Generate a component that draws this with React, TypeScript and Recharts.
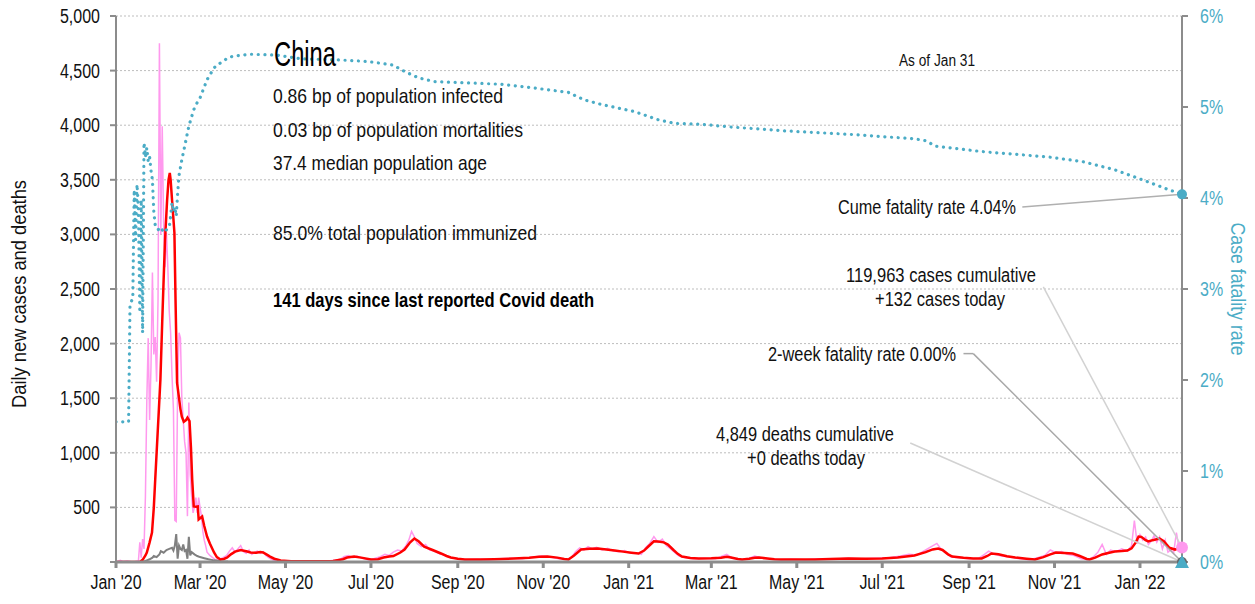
import React from 'react';
import {
  ComposedChart,
  Line,
  XAxis,
  YAxis,
  CartesianGrid,
  ReferenceDot,
  ReferenceLine,
} from 'recharts';

// x values are days since Jan 1 2020
const xTickDays = [0, 60, 121, 182, 244, 305, 366, 425, 486, 547, 609, 670, 731];
const xTickLabels = ["Jan '20", "Mar '20", "May '20", "Jul '20", "Sep '20", "Nov '20", "Jan '21", "Mar '21", "May '21", "Jul '21", "Sep '21", "Nov '21", "Jan '22"];
const leftTicks = [0, 500, 1000, 1500, 2000, 2500, 3000, 3500, 4000, 4500, 5000];
const rightTicks = [0, 1, 2, 3, 4, 5, 6];

// daily new cases [day, cases]
const dailyCases: [number, number][] = [
  [0, 0], [3, 15], [5, 5], [8, 10], [12, 0], [16, 10], [17, 180], [18, 40], [19, 210], [20, 120],
  [21, 600], [22, 1480], [23, 2050], [24, 1300], [25, 1800], [26, 2650], [27, 1900], [28, 2060], [29, 1650], [30, 2400],
  [31, 4750], [32, 3000], [33, 3990], [34, 3100], [35, 2700], [36, 3015], [37, 2700], [38, 2300], [39, 2100], [40, 1700],
  [41, 1400], [42, 380], [43, 370], [44, 1600], [45, 2100], [46, 2050], [47, 1500], [48, 1300], [49, 1100], [50, 1000],
  [51, 420], [52, 1460], [53, 800], [54, 600], [55, 450], [56, 500], [57, 590], [58, 450], [59, 590], [60, 500],
  [61, 420], [62, 280], [63, 200], [64, 150], [65, 90], [67, 60], [69, 40], [71, 20], [73, 25], [75, 30],
  [77, 45], [79, 60], [81, 100], [83, 130], [85, 90], [87, 120], [89, 150], [91, 95], [93, 80], [95, 110],
  [97, 70], [99, 90], [101, 100], [103, 80], [105, 95], [107, 60], [109, 40], [111, 25], [114, 10], [118, 5],
  [125, 10], [132, 4], [140, 8], [148, 5], [156, 15], [160, 25], [163, 50], [166, 60], [169, 40], [172, 55],
  [176, 35], [180, 20], [184, 30], [188, 45], [192, 70], [195, 60], [198, 90], [201, 110], [204, 100], [207, 150],
  [209, 200], [211, 280], [213, 230], [215, 170], [218, 140], [221, 160], [224, 110], [227, 100], [231, 75], [235, 60],
  [239, 40], [244, 30], [250, 20], [258, 25], [266, 20], [274, 30], [282, 35], [290, 30], [298, 45], [304, 55],
  [310, 45], [316, 30], [322, 25], [325, 40], [328, 95], [331, 130], [334, 110], [337, 140], [340, 120], [343, 135],
  [347, 110], [351, 125], [355, 100], [359, 95], [363, 105], [367, 80], [371, 85], [375, 70], [378, 130], [381, 170],
  [384, 233], [387, 180], [390, 210], [393, 150], [396, 120], [399, 85], [402, 55], [406, 40], [412, 30], [420, 35],
  [428, 30], [433, 55], [436, 70], [440, 35], [446, 20], [452, 35], [456, 55], [460, 40], [466, 30], [474, 20],
  [482, 25], [492, 20], [502, 30], [512, 25], [522, 35], [532, 30], [542, 35], [552, 40], [560, 55], [566, 70],
  [572, 65], [578, 110], [582, 140], [586, 170], [589, 120], [592, 90], [596, 45], [602, 40], [610, 30], [616, 35],
  [620, 70], [623, 100], [627, 70], [632, 55], [638, 45], [645, 30], [652, 20], [658, 40], [663, 60], [667, 110],
  [671, 85], [675, 95], [679, 70], [684, 60], [689, 30], [694, 20], [698, 50], [701, 90], [704, 160], [707, 70],
  [710, 110], [714, 95], [718, 120], [722, 100], [725, 150], [727, 380], [729, 170], [731, 250], [733, 200], [735, 230],
  [737, 160], [739, 190], [741, 240], [743, 180], [745, 230], [747, 120], [749, 200], [751, 90], [753, 110], [755, 80],
  [757, 270], [759, 120], [761, 132],
];

// 7-day average of new cases [day, cases]
const avgCases: [number, number][] = [
  [0, 0], [10, 0], [17, 0], [19, 20], [21, 60], [22, 87], [24, 180], [25.7, 270], [27, 500], [28, 755],
  [29, 1000], [30.5, 1370], [31.7, 1670], [33, 2200], [34, 2585], [35, 2950], [36.5, 3317], [37.5, 3500], [38.4, 3563], [39, 3500],
  [40, 3317], [41.7, 3015], [42.5, 2400], [43.6, 1640], [45, 1500], [46, 1400], [47, 1330], [48.4, 1285], [50, 1300], [51, 1322],
  [52.5, 1290], [53.5, 1050], [54.4, 755], [55.5, 508], [57, 505], [58.4, 508], [59, 389], [60, 400], [61.5, 416], [63, 330],
  [65, 233], [67, 170], [70, 87], [72, 45], [74.6, 23], [77, 28], [79.4, 41], [82, 70], [85, 95], [89, 110],
  [93.7, 96], [96, 87], [100, 85], [103, 92], [105, 87], [108, 65], [110, 50], [113, 30], [117.5, 14], [125, 8],
  [140, 6], [155, 10], [162, 25], [165, 41], [170, 50], [175, 40], [182, 23], [187, 25], [191, 41], [195, 50],
  [198, 55], [203, 87], [206, 114], [210, 180], [213, 215], [216, 190], [220, 140], [226, 110], [232, 78], [236, 55],
  [239, 41], [244, 30], [249, 23], [260, 22], [270, 25], [284, 32], [295, 40], [302, 48], [308, 50], [315, 40],
  [320, 28], [323, 23], [327, 60], [332, 114], [338, 122], [344, 123], [350, 115], [356, 105], [362, 95], [368, 85],
  [373, 78], [377, 105], [380, 142], [384, 190], [387, 188], [391, 180], [394, 160], [398, 110], [401, 75], [404, 50],
  [410, 36], [416, 32], [425, 35], [432, 40], [436, 48], [439, 41], [444, 28], [447, 23], [452, 30], [456, 38],
  [459, 41], [465, 32], [470, 25], [475, 23], [485, 22], [499, 23], [510, 28], [523, 32], [535, 30], [547, 32],
  [558, 42], [570, 60], [578, 90], [583, 115], [587, 123], [590, 110], [594, 70], [597, 50], [605, 38], [612, 33],
  [618, 32], [622, 55], [625, 78], [630, 70], [636, 52], [642, 41], [650, 30], [656, 23], [662, 45], [667, 70],
  [671, 87], [677, 82], [683, 78], [688, 55], [693, 28], [695, 23], [699, 40], [704, 69], [709, 85], [713, 96],
  [718, 100], [722, 105], [725, 125], [728, 180], [730, 233], [732, 230], [735, 200], [737, 188], [740, 200], [745, 215],
  [748, 190], [752, 130], [756, 114], [758, 125], [761, 150],
];

// daily deaths [day, deaths]
const dailyDeaths: [number, number][] = [
  [0, 0], [18, 0], [20, 5], [22, 15], [24, 25], [26, 40], [27, 55], [29, 45], [31, 70], [32, 100],
  [34, 85], [36, 110], [38, 120], [40, 130], [41, 105], [42, 150], [43, 255], [44, 30], [45, 150], [46, 120],
  [47, 110], [48, 160], [49, 100], [50, 110], [51, 30], [52, 230], [53, 60], [54, 90], [56, 70], [58, 55],
  [60, 45], [63, 35], [66, 25], [70, 15], [75, 8], [80, 5], [90, 3], [105, 2], [120, 0], [761, 0],
];

// cumulative case fatality rate [day, percent]
const fatalityRate: [number, number][] = [
  [0, 1.54], [4, 1.54], [9, 1.54], [10, 2.83], [12, 2.9], [13, 4.09], [14, 3.54], [15, 4.15], [16, 3.9], [17, 2.74],
  [18, 3.98], [19, 2.52], [20, 4.61], [21, 4.45], [22, 4.55], [23, 4.4], [24, 4.45], [25, 4.3], [26, 4.2], [27, 3.85],
  [28, 3.7], [30, 3.65], [32, 3.68], [34, 3.62], [36, 3.65], [38, 3.68], [39, 3.8], [40, 3.95], [41, 3.85], [42, 3.9],
  [43, 3.8], [44, 4.05], [45, 4.25], [47, 4.42], [50, 4.64], [52, 4.79], [55.5, 4.97], [58, 5.05], [60, 5.1], [65, 5.3],
  [70, 5.43], [75, 5.49], [80, 5.54], [84, 5.56], [96, 5.58], [115, 5.57], [132, 5.53], [156, 5.52], [180, 5.5], [198, 5.46],
  [206, 5.39], [216, 5.32], [227, 5.28], [275, 5.25], [298, 5.21], [323, 5.16], [334, 5.08], [346, 5.03], [370, 4.95], [387, 4.86],
  [399, 4.82], [418, 4.81], [439, 4.78], [475, 4.74], [523, 4.7], [570, 4.65], [578, 4.63], [585, 4.57], [618, 4.51], [666, 4.45],
  [690, 4.4], [713, 4.31], [738, 4.17], [750, 4.1], [761, 4.04],
];

const TEAL = '#4BACC6';
const PINK = '#FF99EE';
const RED = '#FF0000';
const GRAY = '#808080';
const AXIS = '#8c8c8c';
const FONT = "'Liberation Sans', Arial, sans-serif";
const NARROW = 0.82; // Liberation Sans squeezed to Arial Narrow widths

const toRows = (pts: [number, number][]) => pts.map(([d, v]) => ({ d, v }));

const monthLabel = (d: number) => xTickLabels[xTickDays.indexOf(d)] ?? '';

function NarrowTick({ x, y, text, anchor, dy, fill }: any) {
  return (
    <g transform={`translate(${x},${y}) scale(${NARROW},1)`}>
      <text x={0} y={0} dy={dy} textAnchor={anchor} fontFamily={FONT} fontSize={19.5} fill={fill}>
        {text}
      </text>
    </g>
  );
}

// text squeezed to a measured width
function Fit({ x, y, w, size, anchor = 'start', bold = false, fill = '#111', children }: any) {
  return (
    <text
      x={x}
      y={y}
      fontSize={size}
      textAnchor={anchor}
      fontWeight={bold ? 'bold' : 'normal'}
      fill={fill}
      textLength={w}
      lengthAdjust="spacingAndGlyphs"
    >
      {children}
    </text>
  );
}

export default function App() {
  const last = 761;
  return (
    <div style={{ position: 'absolute', left: 0, top: 0, width: 1255, height: 604, background: '#fff' }}>
      <ComposedChart width={1255} height={604} margin={{ top: 16, right: 0, bottom: 0, left: 0 }}>
        <CartesianGrid yAxisId="left" vertical={false} stroke="#bdbdbd" strokeDasharray="2 2" />
        <XAxis
          dataKey="d"
          type="number"
          domain={[0, last]}
          ticks={xTickDays}
          allowDataOverflow
          height={42}
          tick={(p: any) => <NarrowTick x={p.x} y={p.y} text={monthLabel(p.payload.value)} anchor="middle" dy="0.75em" fill="#111" />}
          tickSize={6}
          tickMargin={6}
          stroke={AXIS}
          strokeWidth={3}
        />
        <YAxis
          yAxisId="left"
          domain={[0, 5000]}
          ticks={leftTicks}
          width={116}
          tick={(p: any) => (
            <NarrowTick x={p.x} y={p.y} text={p.payload.value === 0 ? '' : p.payload.value.toLocaleString('en-US')} anchor="end" dy="0.36em" fill="#111" />
          )}
          tickSize={6}
          tickMargin={10}
          stroke={AXIS}
          strokeWidth={2}
          allowDataOverflow
        />
        <YAxis
          yAxisId="right"
          orientation="right"
          domain={[0, 6]}
          ticks={rightTicks}
          width={73}
          tick={(p: any) => <NarrowTick x={p.x} y={p.y} text={`${p.payload.value}%`} anchor="start" dy="0.36em" fill={TEAL} />}
          tickSize={6}
          tickMargin={12}
          stroke={AXIS}
          strokeWidth={2}
        />
        <Line yAxisId="left" data={toRows(dailyCases)} dataKey="v" stroke={PINK} strokeWidth={1.5} dot={false} isAnimationActive={false} />
        <Line yAxisId="left" data={toRows(dailyDeaths)} dataKey="v" stroke={GRAY} strokeWidth={2} dot={false} isAnimationActive={false} />
        <Line yAxisId="left" data={toRows(avgCases)} dataKey="v" stroke={RED} strokeWidth={2.5} dot={false} isAnimationActive={false} />
        <Line
          yAxisId="right"
          data={toRows(fatalityRate)}
          dataKey="v"
          stroke={TEAL}
          strokeWidth={3.2}
          strokeDasharray="0.1 6.6"
          strokeLinecap="round"
          dot={false}
          isAnimationActive={false}
        />

        {/* leader lines from the callouts to the latest values */}
        <ReferenceLine yAxisId="right" segment={[{ x: 647, y: 3.9 }, { x: last, y: 4.04 }]} stroke="#b0b0b0" strokeWidth={1.5} ifOverflow="visible" />
        <ReferenceLine yAxisId="left" segment={[{ x: 662, y: 2520 }, { x: last, y: 132 }]} stroke="#d2d2d2" strokeWidth={1.5} ifOverflow="visible" />
        <ReferenceLine yAxisId="right" segment={[{ x: 605, y: 2.29 }, { x: 612, y: 2.29 }]} stroke="#a8a8a8" strokeWidth={1.5} ifOverflow="visible" />
        <ReferenceLine yAxisId="right" segment={[{ x: 612, y: 2.29 }, { x: last, y: 0 }]} stroke="#a8a8a8" strokeWidth={1.5} ifOverflow="visible" />
        <ReferenceLine yAxisId="left" segment={[{ x: 567, y: 1090 }, { x: last, y: 0 }]} stroke="#d2d2d2" strokeWidth={1.5} ifOverflow="visible" />

        <ReferenceDot yAxisId="left" x={last} y={0} r={5} fill="#666" stroke="none" ifOverflow="visible" />
        <ReferenceDot yAxisId="left" x={last} y={132} r={6} fill={PINK} stroke="none" ifOverflow="visible" />
        <ReferenceDot yAxisId="right" x={last} y={4.04} r={5} fill={TEAL} stroke="none" ifOverflow="visible" />
        <ReferenceDot
          yAxisId="right"
          x={last}
          y={0}
          ifOverflow="visible"
          shape={(p: any) => (
            <polygon points={`${p.cx},${p.cy - 7} ${p.cx - 7},${p.cy + 6} ${p.cx + 7},${p.cy + 6}`} fill={TEAL} />
          )}
        />
      </ComposedChart>

      <svg width={1255} height={604} style={{ position: 'absolute', left: 0, top: 0, pointerEvents: 'none' }} fontFamily={FONT}>
        <g transform="translate(26,294) rotate(-90)">
          <Fit x={0} y={0} w={228} size={19.5} anchor="middle">Daily new cases and deaths</Fit>
        </g>
        <g transform="translate(1231,289) rotate(90)">
          <Fit x={0} y={0} w={133} size={19.5} anchor="middle" fill={TEAL}>Case fatality rate</Fit>
        </g>

        <Fit x={274} y={66} w={62} size={35} fill="#000">China</Fit>
        <Fit x={273} y={103} w={230} size={21}>0.86 bp of population infected</Fit>
        <Fit x={273} y={137} w={250} size={21}>0.03 bp of population mortalities</Fit>
        <Fit x={273} y={170} w={214} size={21}>37.4 median population age</Fit>
        <Fit x={273} y={240} w={264} size={21}>85.0% total population immunized</Fit>
        <Fit x={273} y={307} w={321} size={21} bold fill="#000">141 days since last reported Covid death</Fit>
        <Fit x={937} y={66} w={76} size={16} anchor="middle">As of Jan 31</Fit>

        <Fit x={1016} y={214} w={178} size={20} anchor="end">Cume fatality rate 4.04%</Fit>
        <Fit x={941} y={282} w={190} size={20} anchor="middle">119,963 cases cumulative</Fit>
        <Fit x={940} y={306} w={130} size={20} anchor="middle">+132 cases today</Fit>
        <Fit x={956} y={361} w={188} size={20} anchor="end">2-week fatality rate 0.00%</Fit>
        <Fit x={805} y={441} w={178} size={20} anchor="middle">4,849 deaths cumulative</Fit>
        <Fit x={806} y={465} w={118} size={20} anchor="middle">+0 deaths today</Fit>
      </svg>
    </div>
  );
}
